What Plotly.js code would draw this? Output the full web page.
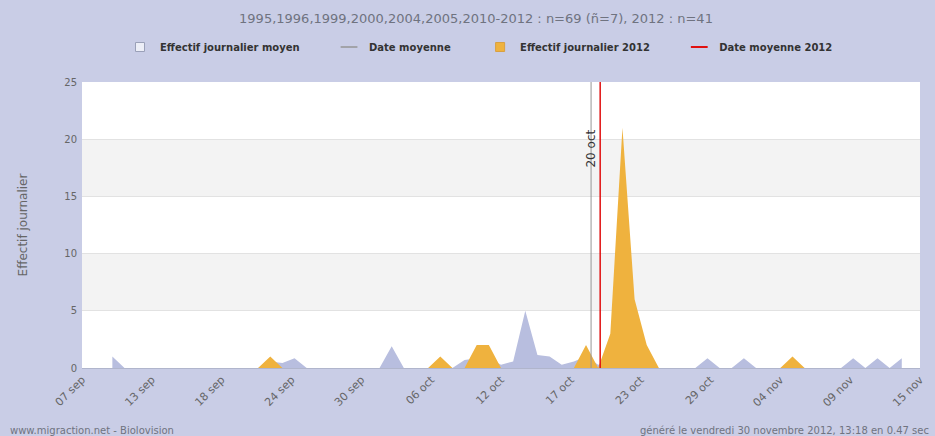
<!DOCTYPE html>
<html>
<head>
<meta charset="utf-8">
<script src="https://cdn.plot.ly/plotly-3.0.1.min.js"></script>
<style>html,body{margin:0;padding:0;background:#c9cde6;}#chart{width:935px;height:436px;}</style>
</head>
<body>
<div id="chart"></div>
<script>
// ---- data ----
const titleText = '1995,1996,1999,2000,2004,2005,2010-2012 : n=69 (ñ=7), 2012 : n=41';
const tickLabels = ['07 sep','13 sep','18 sep','24 sep','30 sep','06 oct','12 oct','17 oct','23 oct','29 oct','04 nov','09 nov','15 nov'];
const axisStart = '2012-09-06 12:00';
const axisEnd = '2012-11-14 12:00';

// Effectif journalier moyen (daily, starting 2012-09-09)
const meanStart = '2012-09-09';
const meanValues = [
  1.0, 0,0,0,0,0,0,0,0,0,0,0,      // sep 9 - sep 20
  0, 0.57, 0.43, 0.86,               // sep 21 - sep 24
  0,0,0,0,0,0,                       // sep 25 - sep 30
  0, 1.9, 0, 0, 0, 0.14, 0,          // oct 1 - oct 7
  0.71, 0.86, 0.86, 0.29, 0.57,      // oct 8 - oct 12
  5.0, 1.14, 1.0, 0.29, 0.57, 1.0, 0.29, // oct 13 - oct 19
  0.57, 3.0, 0.86, 0.29,             // oct 20 - oct 23
  0,0,0,0, 0.86, 0, 0, 0.86,         // oct 24 - oct 31
  0,0,0, 0.29, 0,0,0,0,              // nov 1 - nov 8
  0.86, 0, 0.86, 0, 0.86             // nov 9 - nov 13
];

// Effectif journalier 2012 (daily, starting 2012-09-07)
const start2012 = '2012-09-07';
const values2012 = [
  0,0,0,0,0,0,0,0,0,0,0,0,0,0,0,     // sep 7 - sep 21
  1,                                 // sep 22
  0,0,0,0,0,0,0,0,0,0,0,0,0,         // sep 23 - oct 5
  1, 0, 0, 2, 2,                     // oct 6 - oct 10
  0,0,0,0,0,0,0,                     // oct 11 - oct 17
  2, 0, 3, 21, 6, 2,                 // oct 18 - oct 23
  0,0,0,0,0,0,0,0,0,0,0,             // oct 24 - nov 3
  1,                                 // nov 4
  0,0,0,0,0,0,0,0,0,0                // nov 5 - nov 14
];

const meanDate = '2012-10-18 10:00';
const meanDate2012 = '2012-10-19 04:00';
const meanDate2012Label = '20 oct';
const yTitle = 'Effectif journalier';
const legendNames = ['Effectif journalier moyen', 'Date moyenne', 'Effectif journalier 2012', 'Date moyenne 2012'];
const footerLeft = 'www.migraction.net - Biolovision';
const footerRight = 'généré le vendredi 30 novembre 2012, 13:18 en 0.47 sec';

// ---- helpers ----
const DAY = 86400000;
const pad = n => String(n).padStart(2, '0');
function fmt(ms) {
  const d = new Date(ms);
  return d.getUTCFullYear() + '-' + pad(d.getUTCMonth() + 1) + '-' + pad(d.getUTCDate()) + ' ' + pad(d.getUTCHours()) + ':' + pad(d.getUTCMinutes());
}
function toMs(s) { return Date.parse(s.replace(' ', 'T') + (s.length > 10 ? ':00Z' : 'T00:00:00Z')); }
function dateSeq(start, n) { const s = toMs(start); return Array.from({length: n}, (_, i) => fmt(s + i * DAY)); }

const a0 = toMs(axisStart), a1 = toMs(axisEnd);
const tickVals = tickLabels.map((_, i) => fmt(a0 + i * (a1 - a0) / (tickLabels.length - 1)));

const meanCol = '#b8bedf';
const goldCol = '#efb23e';
const grayLine = '#959595';
const redLine = '#e01010';
const FONT = 'DejaVu Sans, Verdana, sans-serif';
const gap = '\u00a0'.repeat(7);

const traces = [
  {x: dateSeq(meanStart, meanValues.length), y: meanValues, type: 'scatter', mode: 'lines',
   fill: 'tozeroy', fillcolor: meanCol, line: {width: 0, color: meanCol}, showlegend: false, hoverinfo: 'skip'},
  {x: dateSeq(start2012, values2012.length), y: values2012, type: 'scatter', mode: 'lines',
   fill: 'tozeroy', fillcolor: goldCol, line: {width: 0, color: goldCol}, showlegend: false, hoverinfo: 'skip'},
  {x: [meanDate, meanDate], y: [0, 25], type: 'scatter', mode: 'lines', line: {color: grayLine, width: 1}, showlegend: false, hoverinfo: 'skip'},
  {x: [meanDate2012, meanDate2012], y: [0, 25], type: 'scatter', mode: 'lines', line: {color: redLine, width: 1.5}, showlegend: false, hoverinfo: 'skip'},
  // legend entries
  {x: [null], y: [null], type: 'scatter', mode: 'markers', name: legendNames[0] + gap, legendrank: 1,
   marker: {symbol: 'square', size: 9, color: '#eceef7', line: {color: '#9aa0b8', width: 1}}},
  {x: [null], y: [null], type: 'scatter', mode: 'markers', name: legendNames[1] + gap, legendrank: 2,
   marker: {symbol: 'line-ew-open', size: 12, color: grayLine, line: {color: grayLine, width: 1.5}}},
  {x: [null], y: [null], type: 'scatter', mode: 'markers', name: legendNames[2] + gap, legendrank: 3,
   marker: {symbol: 'square', size: 9, color: goldCol, line: {color: '#d9a040', width: 1}}},
  {x: [null], y: [null], type: 'scatter', mode: 'markers', name: legendNames[3], legendrank: 4,
   marker: {symbol: 'line-ew-open', size: 12, color: redLine, line: {color: redLine, width: 2}}}
];

const layout = {
  width: 935, height: 436,
  paper_bgcolor: '#c9cde6',
  plot_bgcolor: '#ffffff',
  margin: {l: 82, r: 15, t: 82, b: 68},
  font: {family: FONT, color: '#666'},
  title: {text: titleText, x: 476 / 935, xanchor: 'center', y: 1 - 18 / 436, yanchor: 'middle',
          font: {family: FONT, size: 13, color: '#6f7380'}},
  showlegend: true,
  legend: {orientation: 'h', x: (479 - 82) / 838, xanchor: 'center', y: 1 + 35 / 286, yanchor: 'middle',
           bgcolor: 'rgba(0,0,0,0)', font: {family: FONT, size: 10, color: '#333', weight: 'bold'},
           itemwidth: 30, traceorder: 'normal'},
  xaxis: {type: 'date', range: [axisStart, axisEnd], tickmode: 'array', tickvals: tickVals, ticktext: tickLabels,
          tickangle: -45, tickfont: {family: FONT, size: 11, color: '#666'}, showgrid: false, zeroline: false,
          showline: true, linecolor: '#b0b5cc', linewidth: 1, ticks: '', fixedrange: true},
  yaxis: {range: [0, 25], tickmode: 'array', tickvals: [0, 5, 10, 15, 20, 25], gridcolor: '#e2e2e2', zeroline: false,
          tickfont: {family: FONT, size: 10, color: '#666'}, ticks: '', showline: false, ticklabelstandoff: 4,
          title: {text: yTitle, font: {family: FONT, size: 12, color: '#666'}, standoff: 34}},
  shapes: [
    {type: 'rect', xref: 'paper', yref: 'y', x0: 0, x1: 1, y0: 5, y1: 10, fillcolor: '#f3f3f3', line: {width: 0}, layer: 'below'},
    {type: 'rect', xref: 'paper', yref: 'y', x0: 0, x1: 1, y0: 15, y1: 20, fillcolor: '#f3f3f3', line: {width: 0}, layer: 'below'}
  ],
  annotations: [
    {x: meanDate2012, y: 19.2, xref: 'x', yref: 'y', text: meanDate2012Label, textangle: -90, showarrow: false,
     xanchor: 'right', yanchor: 'middle', xshift: 0, font: {family: FONT, size: 12, color: '#333'}},
    {x: -0.088, y: -0.217, xref: 'paper', yref: 'paper', text: footerLeft, showarrow: false,
     xanchor: 'left', yanchor: 'middle', font: {family: FONT, size: 10, color: '#6f7380'}},
    {x: (638 - 82) / 838, y: -0.217, xref: 'paper', yref: 'paper', text: footerRight, showarrow: false,
     xanchor: 'left', yanchor: 'middle', font: {family: FONT, size: 10, color: '#6f7380'}}
  ]
};

Plotly.newPlot('chart', traces, layout, {staticPlot: true, displayModeBar: false});
</script>
</body>
</html>
